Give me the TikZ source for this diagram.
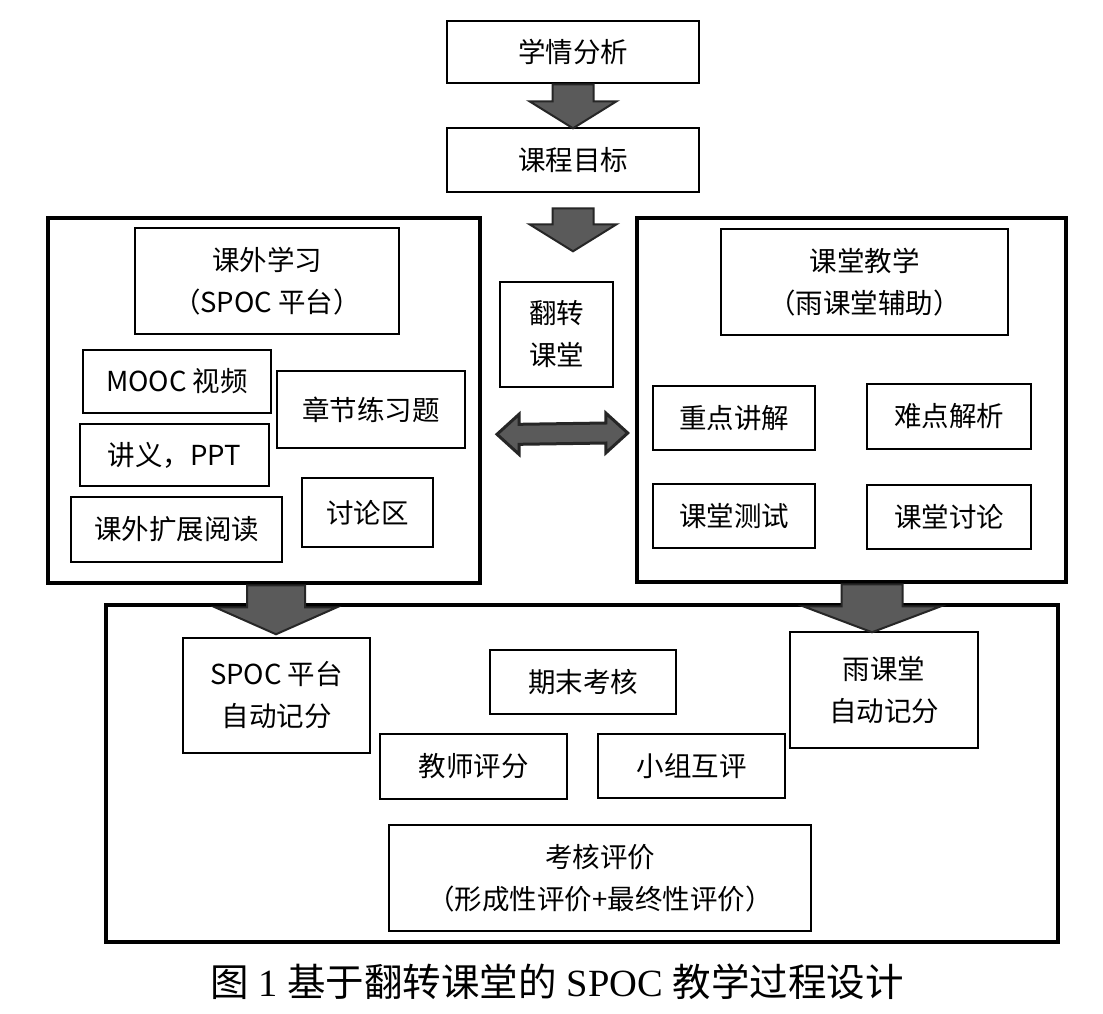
\documentclass[tikz,border=0pt]{standalone}
\usepackage{fontspec}
\setmainfont{Noto Sans CJK SC}
\newfontfamily\capserif{Liberation Serif}
\usetikzlibrary{calc}
\definecolor{arrowgray}{HTML}{5A5A5A}
\tikzset{
  box/.style={draw=black, line width=2.6pt, align=center, inner sep=0pt,
    font=\fontsize{27.5}{42}\selectfont},
  bigbox/.style={draw=black, line width=4.5pt, inner sep=0pt},
  blk/.style={fill=arrowgray, draw=black!85, line width=2pt, line join=miter},
}
\newcommand\blkdown[5]{%
  \draw[blk] ($#1+(-#2,0)$) -- ($#1+(-#2,#4)$) -- ($#1+(-#3,#4)$) -- ($#1+(0,#5)$)
    -- ($#1+(#3,#4)$) -- ($#1+(#2,#4)$) -- ($#1+(#2,0)$) -- cycle;}
\begin{document}
\begin{tikzpicture}[x=1pt,y=-1pt]
\useasboundingbox (0,0) rectangle (1103,1013);
\fill[white] (0,0) rectangle (1103,1013);

% top boxes
\node[box, minimum width=252, minimum height=62] (xq) at (573,52) {学情分析};
\node[box, minimum width=252, minimum height=64] (kc) at (573,160) {课程目标};

% big boxes
\node[bigbox, minimum width=432, minimum height=365] (L) at (264,400.5) {};
\node[bigbox, minimum width=429, minimum height=364] (R) at (851.5,400) {};
\node[bigbox, minimum width=952, minimum height=337] (B) at (582,773.5) {};

% left group
\node[box, minimum width=264, minimum height=106] (kw) at (267,281) {课外学习\\（SPOC 平台）};
\node[box, minimum width=188, minimum height=63] (mooc) at (177,381.5) {MOOC 视频};
\node[box, minimum width=188, minimum height=77] (zj) at (371,409.5) {章节练习题};
\node[box, minimum width=189, minimum height=62] (jy) at (174.5,455) {讲义，PPT};
\node[box, minimum width=211, minimum height=65] (kz) at (176.5,529.5) {课外扩展阅读};
\node[box, minimum width=131, minimum height=69] (tl) at (367.5,512.5) {讨论区};

% middle
\node[box, minimum width=113, minimum height=105] (fz) at (556.5,334.5) {翻转\\课堂};

% right group
\node[box, minimum width=287, minimum height=106] (kt) at (864.5,282) {课堂教学\\（雨课堂辅助）};
\node[box, minimum width=162, minimum height=64] (zd) at (734,418) {重点讲解};
\node[box, minimum width=164, minimum height=65] (nd) at (949,416.5) {难点解析};
\node[box, minimum width=162, minimum height=64] (cs) at (734,516) {课堂测试};
\node[box, minimum width=164, minimum height=64] (ktl) at (949,517) {课堂讨论};

% bottom group
\node[box, minimum width=187, minimum height=115] (spoc) at (276.5,695.5) {SPOC 平台\\自动记分};
\node[box, minimum width=186, minimum height=64] (qm) at (583,682) {期末考核};
\node[box, minimum width=188, minimum height=116] (ykt) at (884,690) {雨课堂\\自动记分};
\node[box, minimum width=187, minimum height=65] (js) at (473.5,766.5) {教师评分};
\node[box, minimum width=187, minimum height=64] (xz) at (691.5,766) {小组互评};
\node[box, minimum width=422, minimum height=106] (kh) at (600,878) {考核评价\\（形成性评价+最终性评价）};

% block arrows
\blkdown{(xq.south)}{20.5}{43.5}{17}{44}
\blkdown{($(kc.south)+(0,15)$)}{20.5}{43.5}{16}{43}
\blkdown{($(L.south)+(12,0)$)}{29}{61}{22}{49}
\blkdown{($(R.south)+(20.5,0)$)}{30.5}{69}{22}{48}

% double arrow
\coordinate (dl) at ($(fz.south)+(-59.5,46)$);
\coordinate (dr) at ($(R.west)+(-7,33)$);
\draw[blk, line width=3pt] (dl) -- ($(dl)+(22,-20)$) -- ($(dl)+(22,-10)$) -- ($(dr)+(-22,-10)$)
  -- ($(dr)+(-22,-20)$) -- (dr) -- ($(dr)+(-22,20)$) -- ($(dr)+(-22,10)$)
  -- ($(dl)+(22,10)$) -- ($(dl)+(22,20)$) -- cycle;

% caption
\node[font=\fontsize{38.5}{44}\selectfont, inner sep=0pt] (cap) at (557,982)
  {图{\capserif\ 1\ }基于翻转课堂的{\capserif\ SPOC\ }教学过程设计};
\end{tikzpicture}
\end{document}
